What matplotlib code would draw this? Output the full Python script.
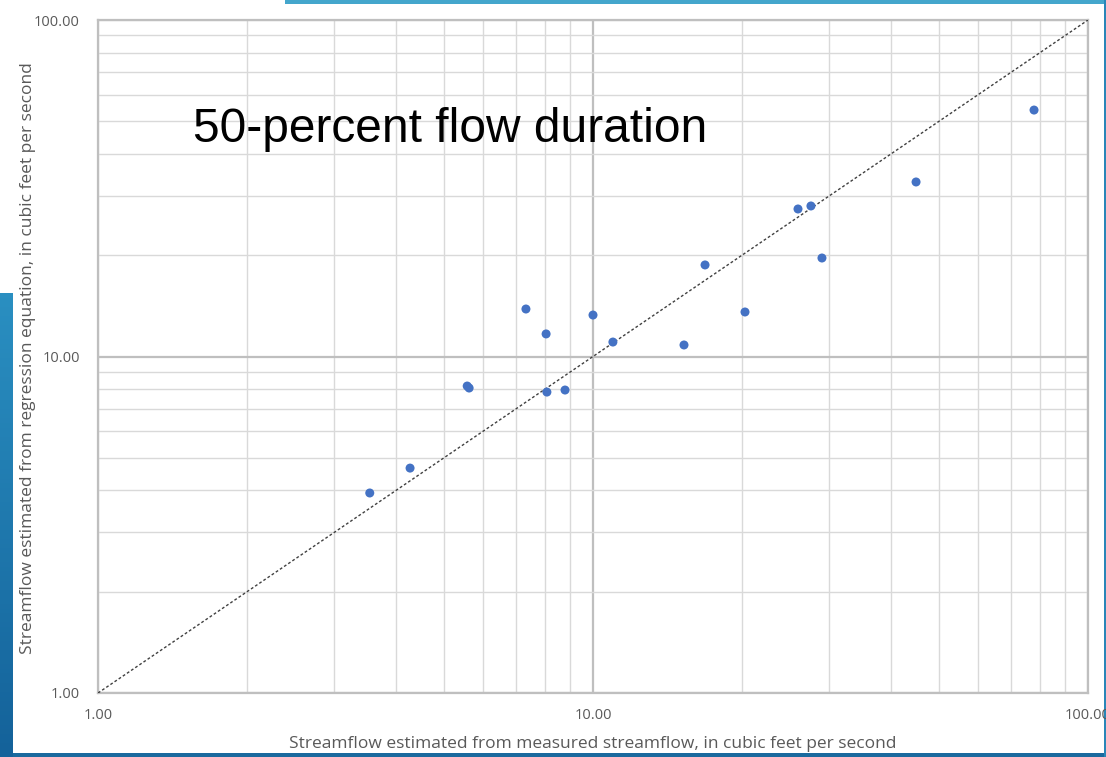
import numpy as np
import matplotlib
matplotlib.use('Agg')
import matplotlib.pyplot as plt
from matplotlib.ticker import FixedLocator, LogLocator, NullFormatter
from matplotlib.patches import Rectangle
from matplotlib.colors import LinearSegmentedColormap

# Streamflow at the 50-percent flow duration, cubic feet per second
measured = [3.54, 4.27, 5.57, 5.62, 7.32, 8.04, 8.07, 8.78, 10.0, 10.97,
            15.27, 16.84, 20.28, 25.95, 27.56, 29.01, 44.94, 77.8]
regression = [3.93, 4.66, 8.17, 8.06, 13.84, 11.67, 7.84, 7.95, 13.28, 11.04,
              10.82, 18.71, 13.56, 27.44, 28.01, 19.62, 33.01, 54.0]
one_to_one = [1.0, 100.0]
tick_values = [1.0, 10.0, 100.0]
tick_labels = ['1.00', '10.00', '100.00']

W, H = 1106, 757
fig = plt.figure(figsize=(W / 100, H / 100), dpi=100)
fig.patch.set_facecolor('white')

ax = fig.add_axes([98 / W, 64 / H, 990 / W, 673 / H])
ax.set_xscale('log')
ax.set_yscale('log')
ax.set_xlim(1, 100)
ax.set_ylim(1, 100)

# minor and major gridlines
ax.xaxis.set_minor_locator(LogLocator(base=10, subs=np.arange(2, 10)))
ax.yaxis.set_minor_locator(LogLocator(base=10, subs=np.arange(2, 10)))
ax.xaxis.set_minor_formatter(NullFormatter())
ax.yaxis.set_minor_formatter(NullFormatter())
ax.grid(which='minor', color='#d9d9d9', linewidth=1.0)
ax.grid(which='major', color='#bfbfbf', linewidth=1.6)
ax.set_axisbelow(True)

ax.xaxis.set_major_locator(FixedLocator(tick_values))
ax.yaxis.set_major_locator(FixedLocator(tick_values))
ax.set_xticklabels(tick_labels)
ax.set_yticklabels(tick_labels)
ax.tick_params(which='both', length=0, labelsize=10.5, colors='#595959',
               labelfontfamily='Open Sans')
ax.tick_params(axis='x', pad=11)
ax.tick_params(axis='y', pad=13)
for s in ax.spines.values():
    s.set_color('#bfbfbf')
    s.set_linewidth(1.6)

# 1:1 line
ax.plot(one_to_one, one_to_one, linestyle=(0, (2, 1.6)), color='#404040',
        linewidth=1.0, zorder=3)
ax.scatter(measured, regression, s=42, color='#4472c4', edgecolors='none',
           zorder=4)

ax.set_xlabel('Streamflow estimated from measured streamflow, in cubic feet per second',
              fontsize=12.5, color='#595959', family='Open Sans', labelpad=9)
ax.set_ylabel('Streamflow estimated from regression equation, in cubic feet per second',
              fontsize=12.5, color='#595959', family='Open Sans')
ax.yaxis.set_label_coords(28 / W, 1 - 358 / H, transform=fig.transFigure)
ax.yaxis.label.set_va('center')

ax.text(193 / W, 1 - 129 / H, '50-percent flow duration', transform=fig.transFigure,
        fontsize=34.5, family='Liberation Sans', color='black', va='center', ha='left')

# slide frame pieces
side = fig.add_axes([0, 0, 13 / W, (757 - 293) / H])
side.imshow(np.linspace(0, 1, 100).reshape(-1, 1), aspect='auto',
            cmap=LinearSegmentedColormap.from_list('edge', ['#2a8fc1', '#14629a']))
side.set_axis_off()
fig.patches.append(Rectangle((0, 0), 1, 4 / H, transform=fig.transFigure,
                             facecolor='#1a6a9e', edgecolor='none', zorder=-1))
fig.patches.append(Rectangle((285 / W, 1 - 4 / H), 1, 4 / H, transform=fig.transFigure,
                             facecolor='#44a6cc', edgecolor='none', zorder=-1))
fig.patches.append(Rectangle((1 - 2 / W, 0), 2 / W, 1, transform=fig.transFigure,
                             facecolor='#2a86b8', edgecolor='none', zorder=-1))

fig.savefig('out.png', dpi=100)
